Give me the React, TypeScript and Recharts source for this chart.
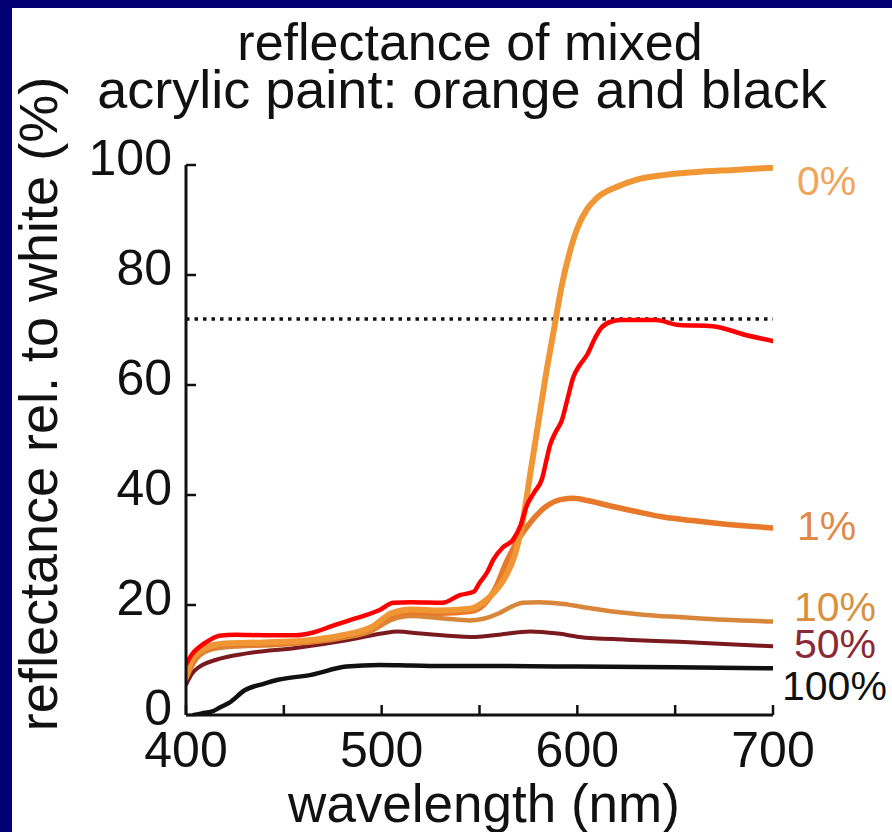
import React from 'react';
import { LineChart, Line, XAxis, YAxis, ReferenceLine } from 'recharts';

// wavelength (nm) / reflectance (%) per black fraction
const wl0 = [400, 403, 407, 412, 420, 440, 460, 480, 495, 505, 515, 530, 545, 552, 558, 563, 568, 572, 576, 580, 584, 588, 592, 596, 600, 605, 610, 620, 630, 645, 660, 680, 700];
const refl0 = [7, 10, 11.5, 12.5, 13, 13.2, 13.5, 14.5, 16, 18.5, 19.2, 19, 19.3, 20.5, 22.5, 25, 29, 35, 44, 53, 62, 70, 78, 84, 88.5, 92, 94, 96, 97.3, 98.2, 98.7, 99.1, 99.5];

const wl1 = [400, 404, 410, 420, 450, 480, 495, 505, 515, 530, 545, 552, 558, 564, 570, 576, 584, 592, 598, 605, 618, 630, 644, 660, 670, 685, 700];
const refl1 = [7, 10, 12, 12.8, 13, 14.3, 15.8, 18, 18.7, 18.5, 18.8, 20, 23, 28, 32, 35, 37.9, 39.2, 39.4, 39, 37.9, 37, 36, 35.3, 34.9, 34.4, 34];

const wl10 = [400, 404, 410, 420, 450, 480, 495, 505, 515, 530, 545, 552, 560, 567, 572, 580, 593, 605, 618, 635, 652, 675, 700];
const refl10 = [6.5, 9.5, 11.5, 12.3, 12.8, 14, 15.3, 17.3, 18, 17.6, 17.2, 17.5, 18.5, 19.8, 20.4, 20.5, 20.2, 19.5, 18.8, 18.2, 17.8, 17.3, 17];

const wl50 = [400, 403, 407, 415, 431, 456, 482, 500, 508, 520, 531, 548, 560, 576, 590, 601, 625, 652, 675, 700];
const refl50 = [5.5, 7.5, 8.8, 10, 11.2, 12.2, 13.6, 14.8, 15.2, 14.8, 14.5, 14.2, 14.6, 15.2, 14.8, 14.2, 13.7, 13.3, 12.9, 12.5];

const wl100 = [404, 408, 413, 418, 422, 430, 440, 447, 464, 482, 499, 515, 533, 560, 600, 650, 700];
const refl100 = [0, 0.3, 0.6, 1.5, 2.2, 4.5, 5.7, 6.4, 7.3, 8.8, 9.1, 9, 8.9, 8.9, 8.8, 8.7, 8.5];

// hand-drawn red curve
const wlRed = [400, 403, 407, 412, 417, 425, 440, 456, 465, 474, 487, 499, 506, 515, 531, 540, 547, 550, 554, 557, 562, 567, 571, 574, 578, 582, 584, 586, 589, 592, 595, 598, 601, 605, 609, 612, 617, 622, 640, 652, 669, 686, 700];
const reflRed = [9.2, 11, 12.4, 13.6, 14.4, 14.6, 14.5, 14.5, 15, 16.1, 17.6, 19.1, 20.4, 20.5, 20.4, 21.8, 22.4, 24, 26, 28.2, 30.5, 31.8, 34.5, 37.9, 40.5, 43, 46, 49, 51.5, 53.5, 57.5, 61.5, 63.5, 65.5, 68.5, 70.3, 71.5, 71.8, 71.8, 70.9, 70.7, 69.1, 68];

const xTicks = [400, 450, 500, 550, 600, 650, 700];
const yTicks = [0, 20, 40, 60, 80, 100];
const dottedLevel = 72;

const toPoints = (xs: number[], ys: number[]) => xs.map((x, i) => ({ x, y: ys[i] }));

const FONT = '"Liberation Sans", Arial, Helvetica, sans-serif';
const AXIS = '#111';

function XTick({ x, y, payload }: any) {
  const v = payload.value;
  return (
    <g>
      <line x1={x} y1={y} x2={x} y2={y - 10} stroke={AXIS} strokeWidth={2.5} />
      {v % 100 === 0 && (
        <text x={x} y={y + 52} textAnchor="middle" fontSize={50} fontFamily={FONT} fill="#111">
          {v}
        </text>
      )}
    </g>
  );
}

function YTick({ x, y, payload }: any) {
  return (
    <g>
      <line x1={x} y1={y} x2={x + 10} y2={y} stroke={AXIS} strokeWidth={2.5} />
      <text x={x - 14} y={y + 10} textAnchor="end" fontSize={50} fontFamily={FONT} fill="#111">
        {payload.value}
      </text>
    </g>
  );
}

const series = [
  { key: '100', data: toPoints(wl100, refl100), color: '#111111', width: 4.5 },
  { key: '50', data: toPoints(wl50, refl50), color: '#7a1a1e', width: 4 },
  { key: '10', data: toPoints(wl10, refl10), color: '#d8873a', width: 4.5 },
  { key: '1', data: toPoints(wl1, refl1), color: '#e8782a', width: 5.5 },
  { key: '0', data: toPoints(wl0, refl0), color: '#f09634', width: 6 },
  { key: 'red', data: toPoints(wlRed, reflRed), color: '#ff0000', width: 4.5 },
];

const endLabels = [
  { text: '0%', x: 797, y: 195, color: '#f0a55a' },
  { text: '1%', x: 797, y: 540, color: '#e08a4a' },
  { text: '10%', x: 794, y: 621, color: '#d8913f' },
  { text: '50%', x: 794, y: 658, color: '#8a2a36' },
  { text: '100%', x: 782, y: 700, color: '#111111' },
];

export default function App() {
  return (
    <div style={{ position: 'absolute', left: 0, top: 0, width: 892, height: 832, background: '#020072', overflow: 'hidden' }}>
      <div style={{ position: 'absolute', left: 12, top: 8, right: 0, bottom: 0, background: '#ffffff' }} />
      <div style={{ position: 'absolute', left: 0, top: 0 }}>
        <LineChart width={892} height={832} margin={{ top: 165, right: 119, bottom: 17, left: 86 }}>
          <XAxis
            dataKey="x"
            type="number"
            domain={[400, 700]}
            ticks={xTicks}
            allowDataOverflow
            height={100}
            tickSize={0}
            tickMargin={0}
            tickLine={false}
            axisLine={{ stroke: AXIS, strokeWidth: 3 }}
            tick={<XTick />}
            interval={0}
          />
          <XAxis
            xAxisId="top"
            orientation="top"
            type="number"
            domain={[400, 700]}
            height={0}
            tick={false}
            tickLine={false}
            axisLine={{ stroke: AXIS, strokeWidth: 3 }}
          />
          <YAxis
            dataKey="y"
            type="number"
            domain={[0, 100]}
            ticks={yTicks}
            allowDataOverflow
            width={100}
            tickSize={0}
            tickMargin={0}
            tickLine={false}
            axisLine={{ stroke: AXIS, strokeWidth: 3 }}
            tick={<YTick />}
            interval={0}
          />
          <YAxis
            yAxisId="right"
            orientation="right"
            type="number"
            domain={[0, 100]}
            width={0}
            tick={false}
            tickLine={false}
            axisLine={{ stroke: AXIS, strokeWidth: 3 }}
          />
          <ReferenceLine y={dottedLevel} stroke="#111" strokeWidth={3.5} strokeDasharray="3.5 5" />
          {series.map((s) => (
            <Line
              key={s.key}
              data={s.data}
              dataKey="y"
              type="monotone"
              stroke={s.color}
              strokeWidth={s.width}
              strokeLinejoin="round"
              strokeLinecap="round"
              dot={false}
              isAnimationActive={false}
            />
          ))}
        </LineChart>
      </div>
      <svg width={892} height={832} style={{ position: 'absolute', left: 0, top: 0, pointerEvents: 'none' }}>
        <g fontFamily={FONT} fill="#111">
          <text x={470} y={60} textAnchor="middle" fontSize={52}>reflectance of mixed</text>
          <text x={462} y={108} textAnchor="middle" fontSize={54}>acrylic paint: orange and black</text>
          <text x={484} y={822} textAnchor="middle" fontSize={53}>wavelength (nm)</text>
          <text transform="translate(57,404) rotate(-90)" textAnchor="middle" fontSize={54}>
            reflectance rel. to white (%)
          </text>
        </g>
        {endLabels.map((l) => (
          <text key={l.text} x={l.x} y={l.y} fontSize={41} fontFamily={FONT} fill={l.color}>
            {l.text}
          </text>
        ))}
      </svg>
    </div>
  );
}
